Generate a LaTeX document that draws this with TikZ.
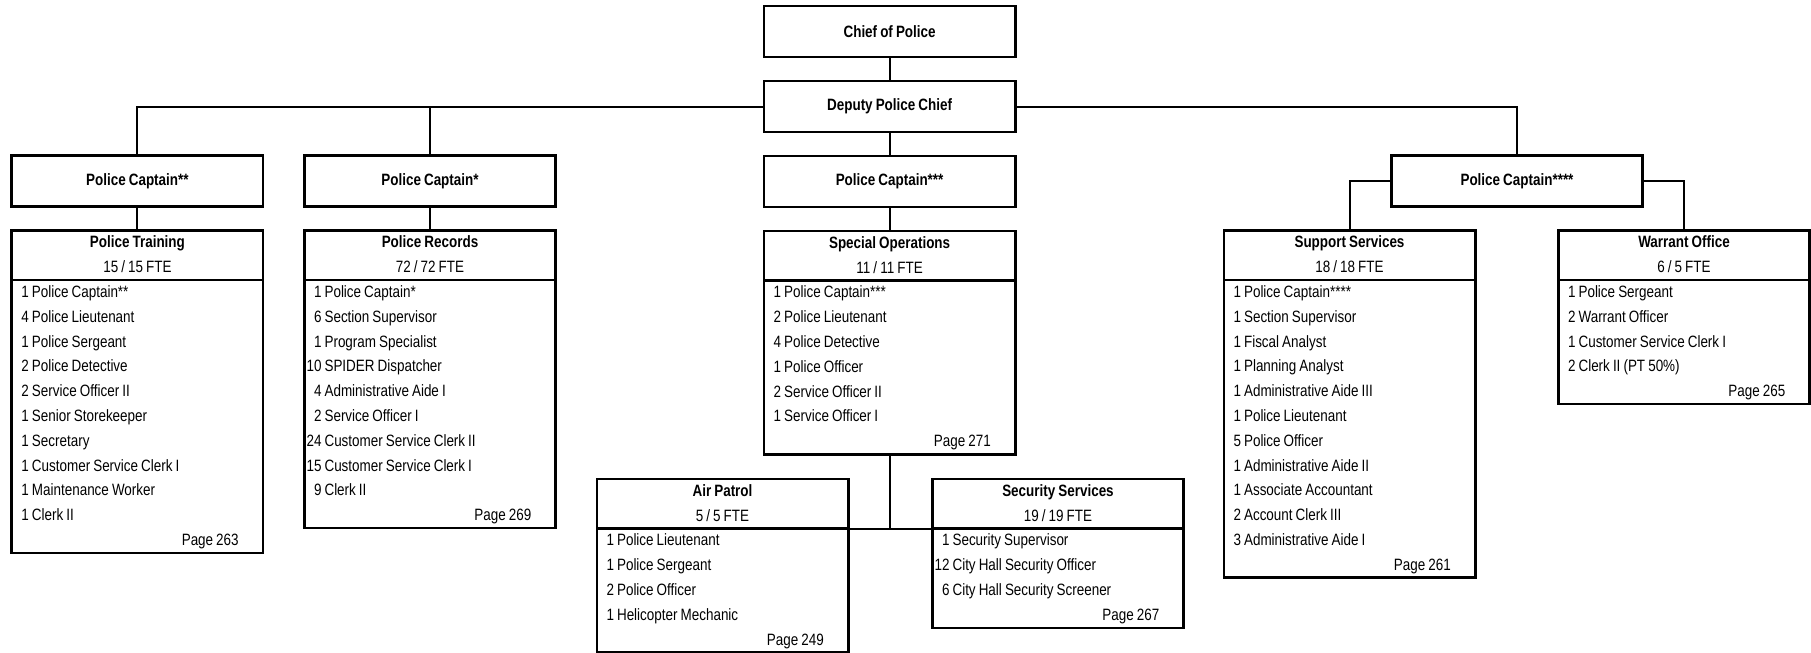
\documentclass[tikz,border=0pt]{standalone}
\usepackage{fontspec}
\setmainfont{Liberation Sans}[FakeStretch=0.82, WordSpace=0.82]
\usetikzlibrary{positioning}

% one staffing line: count right-aligned in a fixed column, then title
\newcommand{\staffrow}[2]{\strut\makebox[7.4pt][r]{#1} #2}
% page reference, pushed to the right edge of the box
\newcommand{\pagetag}[1]{\strut\hspace*{0pt plus 1filll}Page #1\kern11pt}

\begin{document}
\begin{tikzpicture}[
    x=0.5pt, y=-0.5pt,
    font=\fontsize{8.2}{12.4}\selectfont,
    node distance=12pt,
    % --- node styles -------------------------------------------------
    rankbox/.style={
        draw, line width=1.3pt, font=\fontsize{8.2}{12.4}\selectfont\bfseries,
        minimum width=125.7pt, minimum height=25.5pt,
        inner sep=0pt, outer sep=0pt
    },
    unithead/.style={
        draw, line width=1.3pt, align=flush center,
        text width=123.3pt, inner xsep=1.2pt, inner ysep=0pt, outer sep=0pt
    },
    unitbody/.style={
        draw, line width=1.3pt, align=flush left,
        text width=123.3pt, inner xsep=1.2pt, inner ysep=0pt, outer sep=0pt
    },
    link/.style={line width=1pt}
]
\useasboundingbox (0,0) rectangle (1811,653);

% --- command chain ------------------------------------------------
\node[rankbox] (chief) at (889.6,31.5) {Chief of Police};
\node[rankbox, below=of chief] (deputy) {Deputy Police Chief};
\node[rankbox, below=of deputy] (pcC) {Police Captain***};
\node[rankbox] (pcA) at (137.4,181) {Police Captain**};
\node[rankbox] (pcB) at (430,181) {Police Captain*};
\node[rankbox] (pcD) at (1517,181) {Police Captain****};

% --- police training ----------------------------------------------
\node[unithead, below=of pcA] (traininghead)
    {\strut\textbf{Police Training}\\\strut 15 / 15 FTE};
\node[unitbody, below=0pt of traininghead] (trainingbody)
    {\staffrow{1}{Police Captain**}\\
     \staffrow{4}{Police Lieutenant}\\
     \staffrow{1}{Police Sergeant}\\
     \staffrow{2}{Police Detective}\\
     \staffrow{2}{Service Officer II}\\
     \staffrow{1}{Senior Storekeeper}\\
     \staffrow{1}{Secretary}\\
     \staffrow{1}{Customer Service Clerk I}\\
     \staffrow{1}{Maintenance Worker}\\
     \staffrow{1}{Clerk II}\\
     \pagetag{263}};

% --- police records -----------------------------------------------
\node[unithead, below=of pcB] (recordshead)
    {\strut\textbf{Police Records}\\\strut 72 / 72 FTE};
\node[unitbody, below=0pt of recordshead] (recordsbody)
    {\staffrow{1}{Police Captain*}\\
     \staffrow{6}{Section Supervisor}\\
     \staffrow{1}{Program Specialist}\\
     \staffrow{10}{SPIDER Dispatcher}\\
     \staffrow{4}{Administrative Aide I}\\
     \staffrow{2}{Service Officer I}\\
     \staffrow{24}{Customer Service Clerk II}\\
     \staffrow{15}{Customer Service Clerk I}\\
     \staffrow{9}{Clerk II}\\
     \pagetag{269}};

% --- special operations and its two sections ----------------------
\node[unithead, below=of pcC] (opshead)
    {\strut\textbf{Special Operations}\\\strut 11 / 11 FTE};
\node[unitbody, below=0pt of opshead] (opsbody)
    {\staffrow{1}{Police Captain***}\\
     \staffrow{2}{Police Lieutenant}\\
     \staffrow{4}{Police Detective}\\
     \staffrow{1}{Police Officer}\\
     \staffrow{2}{Service Officer II}\\
     \staffrow{1}{Service Officer I}\\
     \pagetag{271}};

\node[unithead, anchor=north] (airhead) at (722.5,479)
    {\strut\textbf{Air Patrol}\\\strut 5 / 5 FTE};
\node[unitbody, below=0pt of airhead] (airbody)
    {\staffrow{1}{Police Lieutenant}\\
     \staffrow{1}{Police Sergeant}\\
     \staffrow{2}{Police Officer}\\
     \staffrow{1}{Helicopter Mechanic}\\
     \pagetag{249}};

\node[unithead, anchor=north] (sechead) at (1058,479)
    {\strut\textbf{Security Services}\\\strut 19 / 19 FTE};
\node[unitbody, below=0pt of sechead] (secbody)
    {\staffrow{1}{Security Supervisor}\\
     \staffrow{12}{City Hall Security Officer}\\
     \staffrow{6}{City Hall Security Screener}\\
     \pagetag{267}};

% --- support services and warrant office --------------------------
\node[unithead, anchor=north] (supporthead) at (1349.5,230.5)
    {\strut\textbf{Support Services}\\\strut 18 / 18 FTE};
\node[unitbody, below=0pt of supporthead] (supportbody)
    {\staffrow{1}{Police Captain****}\\
     \staffrow{1}{Section Supervisor}\\
     \staffrow{1}{Fiscal Analyst}\\
     \staffrow{1}{Planning Analyst}\\
     \staffrow{1}{Administrative Aide III}\\
     \staffrow{1}{Police Lieutenant}\\
     \staffrow{5}{Police Officer}\\
     \staffrow{1}{Administrative Aide II}\\
     \staffrow{1}{Associate Accountant}\\
     \staffrow{2}{Account Clerk III}\\
     \staffrow{3}{Administrative Aide I}\\
     \pagetag{261}};

\node[unithead, anchor=north] (warranthead) at (1684,230.5)
    {\strut\textbf{Warrant Office}\\\strut 6 / 5 FTE};
\node[unitbody, below=0pt of warranthead] (warrantbody)
    {\staffrow{1}{Police Sergeant}\\
     \staffrow{2}{Warrant Officer}\\
     \staffrow{1}{Customer Service Clerk I}\\
     \staffrow{2}{Clerk II (PT 50\%)}\\
     \pagetag{265}};

% --- connectors ---------------------------------------------------
\draw[link] (chief) -- (deputy);
\draw[link] (deputy) -- (pcC);
\draw[link] (pcA.north) |- (deputy.west);
\draw[link] (pcB.north) -- (pcB.north |- deputy.west);
\draw[link] (deputy.east) -| (pcD.north);

\draw[link] (pcA) -- (traininghead);
\draw[link] (pcB) -- (recordshead);
\draw[link] (pcC) -- (opshead);
\draw[link] (pcD.west) -| (supporthead.north);
\draw[link] (pcD.east) -| (warranthead.north);

\draw[link] (opsbody.south) -- (opsbody.south |- airhead.south east);
\draw[link] (airhead.south east) -- (sechead.south west);

\end{tikzpicture}
\end{document}
